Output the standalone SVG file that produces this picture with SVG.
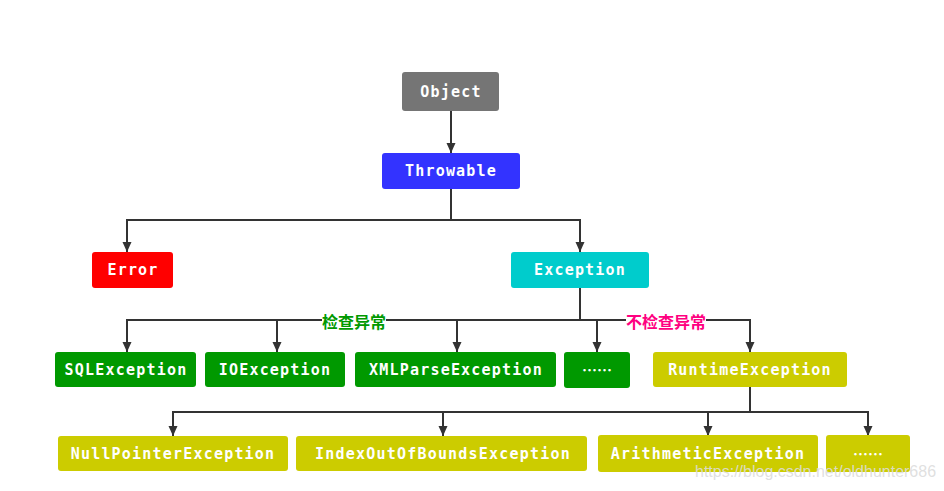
<svg xmlns="http://www.w3.org/2000/svg" width="944" height="491" viewBox="0 0 944 491">
<style>
.n text{font-family:"DejaVu Sans Mono","Liberation Mono",monospace;font-weight:bold;font-size:15px;fill:#fff;text-anchor:middle;letter-spacing:1.2px}
.n text.dots{font-family:"Noto Sans CJK SC",sans-serif;font-size:15px;letter-spacing:0}
.c path{fill:none;stroke:#333;stroke-width:2}
.lbl{font-family:"Noto Sans CJK SC",sans-serif;font-weight:bold;font-size:16px;text-anchor:middle}
.grey{fill:#757575}.blue{fill:#3333FF}.red{fill:#FF0000}.cyan{fill:#00CCCC}.green{fill:#009900}.olive{fill:#CCCC00}
</style>
<defs>
<marker id="ah" markerUnits="userSpaceOnUse" markerWidth="10" markerHeight="10" refX="10" refY="4.5" orient="auto">
<path d="M0,0 L10,4.5 L0,9 z" fill="#333"/>
</marker>
</defs>
<rect width="944" height="491" fill="#fff"/>
<g class="c">
<path d="M451,111 V153" marker-end="url(#ah)"/>
<path d="M451,189 V220"/>
<path d="M451,220 H127 V252" marker-end="url(#ah)"/>
<path d="M451,220 H580 V252" marker-end="url(#ah)"/>
<path d="M580,288 V320"/>
<path d="M580,320 H127 V352" marker-end="url(#ah)"/>
<path d="M277,320 V352" marker-end="url(#ah)"/>
<path d="M457,320 V352" marker-end="url(#ah)"/>
<path d="M580,320 H750 V352" marker-end="url(#ah)"/>
<path d="M597,320 V352" marker-end="url(#ah)"/>
<path d="M750,387 V412"/>
<path d="M750,412 H173 V436" marker-end="url(#ah)"/>
<path d="M443,412 V436" marker-end="url(#ah)"/>
<path d="M750,412 H868 V436" marker-end="url(#ah)"/>
<path d="M708,412 V436" marker-end="url(#ah)"/>
<rect x="322" y="312" width="64" height="18" fill="#fff"/>
<rect x="626" y="312" width="80" height="18" fill="#fff"/>
<text class="lbl" x="354" y="328" fill="#009900">检查异常</text>
<text class="lbl" x="666" y="328" fill="#FF0080">不检查异常</text>
</g>
<g id="object" class="n"><rect class="grey" x="402" y="72" width="97" height="39" rx="3"/><text x="451" y="97">Object</text></g>
<g id="throwable" class="n"><rect class="blue" x="382" y="153" width="138" height="36" rx="3"/><text x="451" y="176">Throwable</text></g>
<g id="error" class="n"><rect class="red" x="92" y="252" width="81" height="36" rx="3"/><text x="133" y="275">Error</text></g>
<g id="exception" class="n"><rect class="cyan" x="511" y="252" width="138" height="36" rx="3"/><text x="580" y="275">Exception</text></g>
<g id="sql" class="n"><rect class="green" x="55" y="352" width="141" height="35" rx="3"/><text x="126" y="375">SQLException</text></g>
<g id="io" class="n"><rect class="green" x="205" y="352" width="140" height="35" rx="3"/><text x="275" y="375">IOException</text></g>
<g id="xml" class="n"><rect class="green" x="355" y="352" width="201" height="35" rx="3"/><text x="456" y="375">XMLParseException</text></g>
<g id="more1" class="n"><rect class="green" x="564" y="352" width="66" height="36" rx="3"/><text class="dots" x="597" y="376">……</text></g>
<g id="runtime" class="n"><rect class="olive" x="653" y="352" width="194" height="35" rx="3"/><text x="750" y="375">RuntimeException</text></g>
<g id="npe" class="n"><rect class="olive" x="58" y="436" width="230" height="35" rx="3"/><text x="173" y="459">NullPointerException</text></g>
<g id="ioob" class="n"><rect class="olive" x="296" y="436" width="291" height="35" rx="3"/><text x="443" y="459">IndexOutOfBoundsException</text></g>
<g id="arith" class="n"><rect class="olive" x="598" y="435" width="220" height="37" rx="3"/><text x="708" y="459">ArithmeticException</text></g>
<g id="more2" class="n"><rect class="olive" x="826" y="435" width="84" height="37" rx="3"/><text class="dots" x="868" y="460">……</text></g>
<text x="695" y="477" font-family="Liberation Sans,sans-serif" font-size="16" fill="#dcdcdc" fill-opacity="0.9">https://blog.csdn.net/oldhunter686</text>
</svg>
